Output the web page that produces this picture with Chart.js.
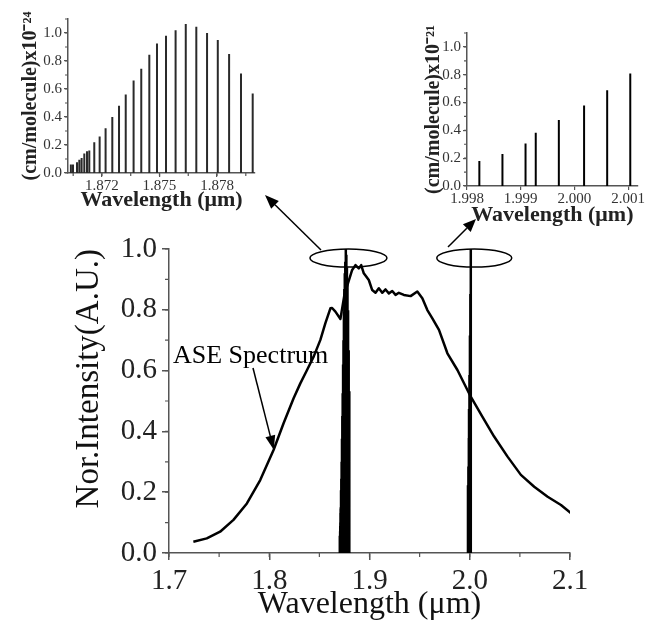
<!DOCTYPE html>
<html>
<head>
<meta charset="utf-8">
<script src="https://cdn.jsdelivr.net/npm/chart.js@4.4.1/dist/chart.umd.min.js"></script>
<style>
  html, body { margin: 0; padding: 0; background: #fff; overflow: hidden; }
  #wrap { position: relative; width: 645px; height: 626px; }
  canvas { position: absolute; }
  #main { left: 0; top: 0; }
  #inset1 { left: 0; top: 0; }
  #inset2 { left: 380px; top: 0; }
</style>
</head>
<body>
<div id="wrap">
  <canvas id="main" width="645" height="626"></canvas>
  <canvas id="inset1" width="270" height="215"></canvas>
  <canvas id="inset2" width="265" height="230"></canvas>
</div>
<script>
// ASE spectrum (main plot)
const aseWavelength = [1.7243, 1.7377, 1.751, 1.7643, 1.7777, 1.791, 1.8043, 1.8143, 1.8243, 1.831,
  1.8377, 1.8443, 1.851, 1.856, 1.861, 1.8627, 1.866, 1.871, 1.875, 1.8827, 1.886, 1.8893, 1.8917,
  1.8943, 1.8993, 1.9027, 1.906, 1.9093, 1.9127, 1.916, 1.9193, 1.9227, 1.926, 1.9293, 1.9343,
  1.941, 1.9477, 1.9527, 1.9577, 1.9627, 1.9693, 1.9777, 1.9877, 2.001, 2.0127, 2.0243, 2.0377,
  2.051, 2.0643, 2.0777, 2.091, 2.101];
const aseIntensity = [0.037, 0.048, 0.070, 0.109, 0.163, 0.240, 0.339, 0.427, 0.509, 0.558,
  0.602, 0.646, 0.701, 0.756, 0.805, 0.806, 0.794, 0.770, 0.85, 0.931, 0.947, 0.936, 0.947,
  0.920, 0.898, 0.865, 0.856, 0.871, 0.856, 0.867, 0.854, 0.862, 0.849, 0.856, 0.849,
  0.845, 0.860, 0.838, 0.799, 0.772, 0.734, 0.657, 0.602, 0.514, 0.448, 0.383, 0.317,
  0.257, 0.218, 0.185, 0.158, 0.131];

// absorption lines near 1.875 um (x10^-24 cm/molecule)
const band1Wavelength = [1.87038, 1.87049, 1.87070, 1.87082, 1.87094, 1.87108, 1.87122, 1.87134,
  1.87160, 1.87188, 1.87219, 1.87254, 1.87289, 1.87324, 1.87365, 1.87405, 1.87447, 1.87487,
  1.87534, 1.87584, 1.87637, 1.87692, 1.87748, 1.87804, 1.87863, 1.87925, 1.87986];
const band1Strength = [0.06, 0.06, 0.076, 0.095, 0.107, 0.14, 0.155, 0.16, 0.22, 0.26, 0.32,
  0.40, 0.48, 0.56, 0.66, 0.745, 0.845, 0.925, 0.98, 1.02, 1.065, 1.045, 1.0, 0.95, 0.85, 0.71, 0.567];

// absorption lines near 2.0 um (x10^-21 cm/molecule)
const band2Wavelength = [1.99823, 1.99866, 1.99909, 1.99928, 1.99971, 2.00018, 2.00061, 2.00104];
const band2Strength = [0.18, 0.23, 0.306, 0.383, 0.474, 0.579, 0.689, 0.809];

// tick labels
const mainXTicks = [1.7, 1.8, 1.9, 2.0, 2.1];
const mainYTicks = [0.0, 0.2, 0.4, 0.6, 0.8, 1.0];
const inset1XTicks = [1.872, 1.875, 1.878];
const inset2XTicks = [1.998, 1.999, 2.000, 2.001];
const insetYTicks = [0.0, 0.2, 0.4, 0.6, 0.8, 1.0];

const SERIF = "'Liberation Serif', 'Times New Roman', serif";
Chart.defaults.font.family = SERIF;
Chart.defaults.color = '#111';
const AXIS = '#555';

// vertical sticks as one broken line
function sticks(xs, ys, k) {
  const pts = [];
  xs.forEach((x, i) => {
    pts.push({ x, y: 0 }, { x, y: ys[i] * k }, { x, y: null });
  });
  return pts;
}

// short minor ticks
function minorTicks(axes) {
  return {
    id: 'minorTicks',
    afterDraw(chart) {
      const ctx = chart.ctx;
      ctx.save();
      ctx.strokeStyle = AXIS;
      ctx.lineWidth = 1.2;
      axes.forEach(([id, step, len]) => {
        const s = chart.scales[id];
        const n0 = Math.ceil(s.min / step - 1e-6);
        const n1 = Math.floor(s.max / step + 1e-6);
        ctx.beginPath();
        for (let n = n0; n <= n1; n++) {
          const p = s.getPixelForValue(n * step);
          if (s.isHorizontal()) {
            ctx.moveTo(p, s.top); ctx.lineTo(p, s.top + len);
          } else {
            ctx.moveTo(s.right - len, p); ctx.lineTo(s.right, p);
          }
        }
        ctx.stroke();
      });
      ctx.restore();
    }
  };
}

function arrow(ctx, x0, y0, x1, y1, head, half) {
  const a = Math.atan2(y1 - y0, x1 - x0);
  const bx = x1 - head * Math.cos(a), by = y1 - head * Math.sin(a);
  ctx.beginPath();
  ctx.moveTo(x0, y0); ctx.lineTo(bx, by);
  ctx.stroke();
  ctx.beginPath();
  ctx.moveTo(x1, y1);
  ctx.lineTo(bx + half * Math.sin(a), by - half * Math.cos(a));
  ctx.lineTo(bx - half * Math.sin(a), by + half * Math.cos(a));
  ctx.closePath();
  ctx.fill();
}

// ellipses, arrows and the ASE label
const marks = {
  id: 'marks',
  afterDraw(chart) {
    const { ctx, scales: { x, y } } = chart;
    ctx.save();
    ctx.strokeStyle = '#000';
    ctx.fillStyle = '#000';
    ctx.lineWidth = 1.5;
    const ey = y.getPixelForValue(0.97);
    ctx.beginPath();
    ctx.ellipse(x.getPixelForValue(1.879), ey, 38.5, 9, 0, 0, Math.PI * 2);
    ctx.stroke();
    ctx.beginPath();
    ctx.ellipse(x.getPixelForValue(2.0045), ey, 37.5, 9, 0, 0, Math.PI * 2);
    ctx.stroke();
    arrow(ctx, 321, 250, 265, 195, 14, 5.5);
    arrow(ctx, 448, 247, 476, 219, 13, 5.5);
    arrow(ctx, 253, 368, x.getPixelForValue(1.8045), y.getPixelForValue(0.34), 14, 5);
    ctx.font = '26px ' + SERIF;
    ctx.textBaseline = 'alphabetic';
    ctx.fillText('ASE Spectrum', 173, 363);
    ctx.restore();
  }
};

const band1Max = Math.max(...band1Strength);
const band2Max = Math.max(...band2Strength);

new Chart(document.getElementById('main'), {
  type: 'line',
  data: {
    datasets: [
      {
        data: aseWavelength.map((w, i) => ({ x: w, y: aseIntensity[i] })),
        borderColor: '#000', borderWidth: 2.5, pointRadius: 0, tension: 0, borderJoinStyle: 'round'
      },
      {
        data: sticks(band1Wavelength, band1Strength, 1 / band1Max),
        borderColor: '#000', borderWidth: 2.5, pointRadius: 0, spanGaps: false
      },
      {
        data: sticks(band2Wavelength, band2Strength, 1 / band2Max),
        borderColor: '#000', borderWidth: 2.5, pointRadius: 0, spanGaps: false
      }
    ]
  },
  options: {
    responsive: false,
    animation: false,
    layout: { padding: { top: 249, right: 75, bottom: 0, left: 0 } },
    plugins: { legend: { display: false }, tooltip: { enabled: false } },
    scales: {
      x: {
        type: 'linear', min: 1.7, max: 2.1,
        afterBuildTicks: s => { s.ticks = mainXTicks.map(v => ({ value: v })); },
        afterFit: s => { s.height = 73; },
        grid: { drawOnChartArea: false, tickLength: 7, color: AXIS, lineWidth: 1.5 },
        border: { color: AXIS, width: 1.5 },
        ticks: { autoSkip: false, maxRotation: 0, padding: 4, color: '#222', font: { size: 29 }, callback: v => v.toFixed(1) },
        title: { display: true, text: 'Wavelength (μm)', font: { size: 32 }, padding: { top: 0, bottom: 2 } }
      },
      y: {
        type: 'linear', min: 0, max: 1,
        afterBuildTicks: s => { s.ticks = mainYTicks.map(v => ({ value: v })); },
        afterFit: s => { s.width = 169; },
        grid: { drawOnChartArea: false, tickLength: 7, color: AXIS, lineWidth: 1.5 },
        border: { color: AXIS, width: 1.5 },
        ticks: { autoSkip: false, padding: 5, color: '#222', font: { size: 29 }, callback: v => v.toFixed(1) },
        title: { display: true, text: 'Nor.Intensity(A.U.)', align: 'end', font: { size: 33 }, padding: { top: 70, bottom: 0 } }
      }
    }
  },
  plugins: [minorTicks([['x', 0.05, 4], ['y', 0.1, 4]]), marks]
});

function insetOptions(o) {
  return {
    responsive: false,
    animation: false,
    layout: { padding: { top: o.top, right: o.right, bottom: 0, left: 0 } },
    plugins: { legend: { display: false }, tooltip: { enabled: false } },
    scales: {
      x: {
        type: 'linear', min: o.xmin, max: o.xmax,
        afterBuildTicks: s => { s.ticks = o.xticks.map(v => ({ value: v })); },
        afterFit: s => { s.height = o.xh; },
        grid: { drawOnChartArea: false, tickLength: 4, color: AXIS, lineWidth: 1.2 },
        border: { color: AXIS, width: 1.5 },
        ticks: { autoSkip: false, maxRotation: 0, padding: 0, color: '#333', font: { size: 15 }, callback: v => v.toFixed(3) },
        title: { display: true, text: 'Wavelength (μm)', font: { size: 22, weight: 'bold' }, color: '#222', padding: { top: 0, bottom: o.xpb } }
      },
      y: {
        type: 'linear', min: 0, max: 1.1,
        afterBuildTicks: s => { s.ticks = insetYTicks.map(v => ({ value: v })); },
        afterFit: s => { s.width = o.yw; },
        grid: { drawOnChartArea: false, tickLength: 4, color: AXIS, lineWidth: 1.2 },
        border: { color: AXIS, width: 1.5 },
        ticks: { autoSkip: false, padding: 2, color: '#333', font: { size: 15 }, callback: v => v.toFixed(1) },
        title: { display: true, text: o.ytitle, font: { size: 20, weight: 'bold' }, color: '#222', padding: { top: o.ypt, bottom: 0 } }
      }
    }
  };
}

new Chart(document.getElementById('inset1'), {
  type: 'line',
  data: {
    datasets: [{
      data: sticks(band1Wavelength, band1Strength, 1),
      borderColor: '#2a2a2a', borderWidth: 2, pointRadius: 0, spanGaps: false
    }]
  },
  options: insetOptions({
    top: 19, right: 15, xmin: 1.87023, xmax: 1.87998, xticks: inset1XTicks,
    xh: 42, yw: 68, xpb: 1, ypt: 19, ytitle: '(cm/molecule)x10⁻²⁴'
  }),
  plugins: [minorTicks([['x', 0.0015, 3], ['y', 0.1, 3]])]
});

new Chart(document.getElementById('inset2'), {
  type: 'line',
  data: {
    datasets: [{
      data: sticks(band2Wavelength, band2Strength, 1),
      borderColor: '#000', borderWidth: 2, pointRadius: 0, spanGaps: false
    }]
  },
  options: insetOptions({
    top: 33, right: 0, xmin: 1.998, xmax: 2.00118, xticks: inset2XTicks,
    xh: 44, yw: 87, xpb: 1, ypt: 42, ytitle: '(cm/molecule)x10⁻²¹'
  }),
  plugins: [minorTicks([['y', 0.1, 3]])]
});
</script>
</body>
</html>
